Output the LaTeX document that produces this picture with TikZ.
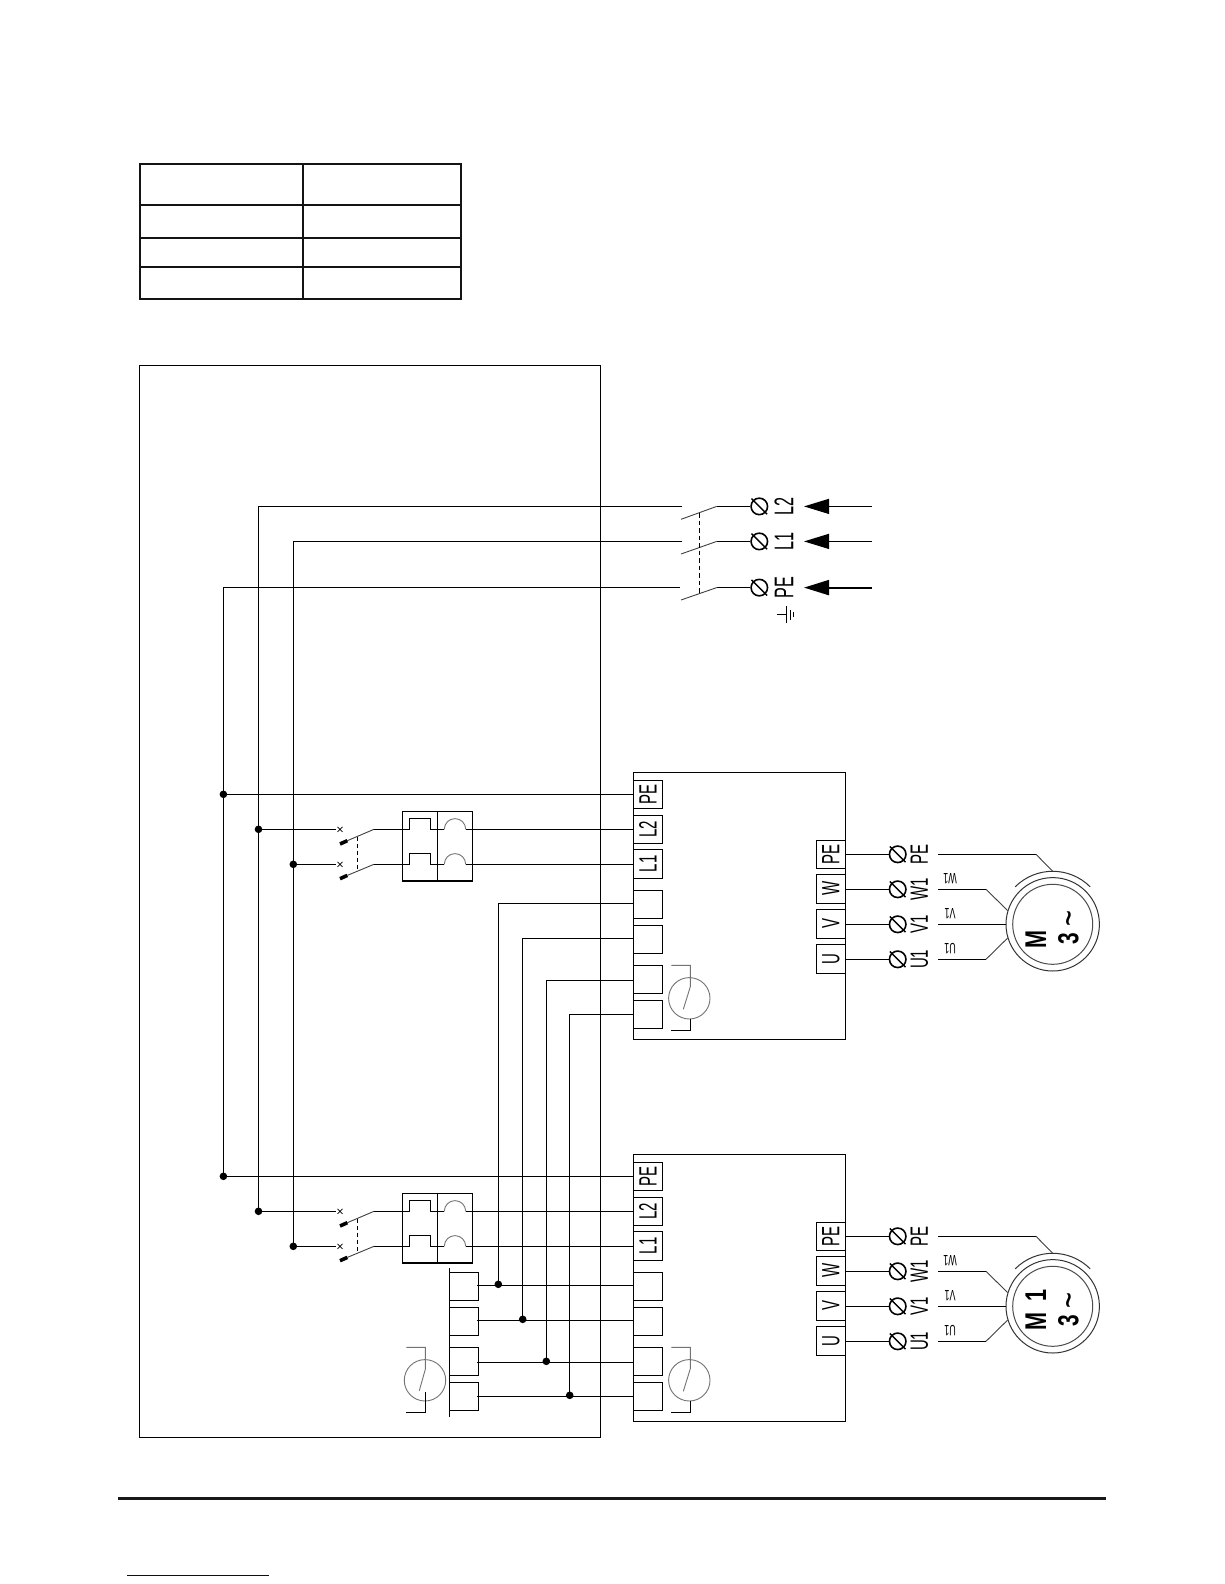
\documentclass[tikz,border=0pt]{standalone}
\usepackage{fontspec}
\setmainfont{Liberation Sans}
\newfontfamily\condf[FakeStretch=0.6]{Liberation Sans}
\newfontfamily\wdbf[FakeStretch=0.72]{Liberation Sans}
\usetikzlibrary{arrows.meta}
\tikzset{
  wire/.style={line width=1.2pt,line cap=butt,line join=miter},
  thin gray/.style={line width=0.9pt,draw=black!55},
  blade/.style={line width=0.9pt,draw=black!75},
  tablerule/.style={line width=2pt,draw=black!92},
  frame/.style={line width=1.2pt},
  term/.style={draw,line width=1.2pt,rectangle,minimum width=29.4pt,minimum height=28pt,inner sep=0pt,font=\fontsize{25}{25}\selectfont\condf},
  biglab/.style={rotate=90,inner sep=0pt,font=\fontsize{25}{25}\selectfont\condf},
  toplab/.style={rotate=90,inner sep=0pt,font=\fontsize{27}{27}\selectfont\condf},
  smalllab/.style={rotate=180,inner sep=0pt,font=\fontsize{15}{15}\selectfont\condf},
  screw/.style={circle,draw,line width=1.6pt,minimum size=16.5pt,inner sep=0pt},
  dot/.style={circle,fill=black,minimum size=7.6pt,inner sep=0pt},
  relay/.style={circle,thin gray,draw=black!55,minimum size=41.4pt,inner sep=0pt},
  motorout/.style={circle,draw,line width=1pt,draw=black!80,minimum size=93.4pt,inner sep=0pt},
  motorin/.style={circle,draw,line width=1pt,draw=black!70,minimum size=80pt,inner sep=0pt},
  powerarrow/.style={-{Triangle[length=25pt,width=15pt]},line width=1.2pt}
}
\newcommand{\screwslash}[1]{\draw[line width=1.4pt,shorten >=-2pt,shorten <=-2pt] (#1.135) -- (#1.-45);}
\newcommand{\rot}[1]{\rotatebox{90}{#1}}
% one drive with breaker and motor
\newcommand{\driveunit}[4]{%
\begin{scope}[yshift=-#2pt]
  \node[draw,line width=1.2pt,minimum width=212pt,minimum height=266.6pt,inner sep=0pt] (box#1) at (739.3,906) {};
  \node[term] (tPE#1) at (648,794.3) {\rot{PE}};
  \node[term] (tL2#1) at (648,829.3) {\rot{L2}};
  \node[term,minimum height=29pt] (tL1#1) at (648,863.8) {\rot{L1}};
  \node[term] (tA#1) at (648,904.3) {};
  \node[term] (tB#1) at (648,939.3) {};
  \node[term] (tC#1) at (648,979.3) {};
  \node[term] (tD#1) at (648,1014.3) {};
  \node[term] (oPE#1) at (830.8,854.3) {\rot{PE}};
  \node[term,minimum height=29pt] (oW#1) at (830.8,888.8) {\rot{W}};
  \node[term,minimum height=29pt] (oV#1) at (830.8,923.8) {\rot{V}};
  \node[term,minimum height=29pt] (oU#1) at (830.8,958.8) {\rot{U}};
  \coordinate (pA#1) at (633.3,903.3);
  \coordinate (pB#1) at (633.3,938.3);
  \coordinate (pC#1) at (633.3,980.3);
  \coordinate (pD#1) at (633.3,1014.3);
  % relay
  \node[relay] (rel#1) at (689.3,998.3) {};
  \coordinate (ra#1) at (671.3,965.3);
  \coordinate (rb#1) at (690.3,965.3);
  \coordinate (rc#1) at (690.3,986.7);
  \coordinate (rd#1) at (683.3,1009.3);
  \coordinate (re#1) at (690.3,1019.3);
  \coordinate (rf#1) at (690.3,1030.7);
  \coordinate (rg#1) at (671.3,1030.7);
  \draw[thin gray] (ra#1) -- (rb#1) -- (rc#1) -- (rd#1);
  \draw[wire] (re#1) -- (rf#1) -- (rg#1);
  % breaker
  \coordinate (jPE#1) at (223.4,794.3);
  \coordinate (jL2#1) at (258.5,829.3);
  \coordinate (jL1#1) at (293.3,864.3);
  \node[dot] (dPE#1) at (jPE#1) {};
  \node[dot] (dL2#1) at (jL2#1) {};
  \node[dot] (dL1#1) at (jL1#1) {};
  \draw[wire] (jPE#1) -- (tPE#1.west);
  \node[draw,line width=1.2pt,minimum width=70pt,minimum height=69.7pt,inner sep=0pt] (brk#1) at (437.3,846.2) {};
  \draw[wire] (brk#1.north) -- (brk#1.south);
  \foreach \yy/\nn/\cy in {829.3/L2/844,864.3/L1/878.7}{
    \coordinate (c1\nn#1) at (336,\yy);
    \coordinate (c2\nn#1) at (340,\yy);
    \coordinate (c3\nn#1) at (347.3,\cy-3.3);
    \coordinate (c4\nn#1) at (340,\cy);
    \coordinate (c5\nn#1) at (374,\yy);
    \coordinate (c6\nn#1) at (409.3,\yy);
    \coordinate (c7\nn#1) at (409.3,\yy-10.5);
    \coordinate (c8\nn#1) at (430.7,\yy-10.5);
    \coordinate (c9\nn#1) at (430.7,\yy);
    \coordinate (c10\nn#1) at (444.3,\yy);
    \coordinate (c11\nn#1) at (465.7,\yy);
    \draw[wire] (j\nn#1) -- (c1\nn#1);
    \draw[line width=0.7pt] (c2\nn#1) ++(-2.5,-2.5) -- ++(5,5) ++(-5,0) -- ++(5,-5);
    \draw[line width=3.6pt] (c4\nn#1) -- (c3\nn#1);
    \draw[blade] (c3\nn#1) -- (c5\nn#1);
    \draw[wire] (c5\nn#1) -- (c6\nn#1) -- (c7\nn#1) -- (c8\nn#1) -- (c9\nn#1) -- (c10\nn#1);
    \draw[thin gray] (c10\nn#1) arc[start angle=-180,end angle=0,radius=10.7];
    \draw[wire] (c11\nn#1) -- (t\nn#1.west |- c11\nn#1);
  }
  \coordinate (dsA#1) at (357.3,836.7);
  \coordinate (dsB#1) at (357.3,870);
  \draw[wire,dashed,dash pattern=on 4pt off 3pt] (dsA#1) -- (dsB#1);
  % outgoing terminals
  \foreach \yy/\nn/\tx in {854.3/PE/PE,889.3/W/W1,924.3/V/V1,959.3/U/U1}{
    \node[screw] (s\nn#1) at (897.7,\yy) {};
    \screwslash{s\nn#1}
    \draw[wire] (o\nn#1.east |- s\nn#1.west) -- (s\nn#1.west);
    \node[biglab] (l\nn#1) at (919.3,\yy) {\tx};
    \coordinate (m\nn#1) at (938.3,\yy);
  }
  \node[smalllab] (sW#1x) at (950,879) {W1};
  \node[smalllab] (sV#1x) at (950,913.7) {V1};
  \node[smalllab] (sU#1x) at (950,948.7) {U1};
  % motor
  \node[motorout] (mo#1) at (1052.7,924.3) {};
  \node[motorin] (mi#1) at (1052.7,924.3) {};
  \coordinate (arcS#1) at (1015.2,886.8);
  \coordinate (arcT#1) at (1052.7,871.3);
  \draw[line width=1pt,draw=black!80] (arcS#1) arc[start angle=-135,end angle=-45,radius=53];
  \coordinate (kPE#1) at (1036,854.3);
  \coordinate (kW#1) at (986,889.3);
  \coordinate (kU#1) at (986,959.3);
  \draw[line width=1pt] (mPE#1) -- (kPE#1);
  \draw[blade] (kPE#1) -- (arcT#1);
  \draw[line width=1pt] (mW#1) -- (kW#1);
  \draw[blade] (kW#1) -- (mo#1.163);
  \draw[line width=1pt] (mV#1) -- (mo#1.west);
  \draw[line width=1pt] (mU#1) -- (kU#1);
  \draw[blade] (kU#1) -- (mo#1.197);
  \node[rotate=90,inner sep=0pt,font=\fontsize{30}{30}\selectfont\wdbf\bfseries] (mt#1) at (1035.7,#3) {#4};
  \node[rotate=90,inner sep=0pt,font=\fontsize{29}{29}\selectfont\wdbf\bfseries] (mn#1) at (1070,927.5) {3 \raisebox{-3.5pt}{\fontsize{38}{38}\selectfont\mdseries\string~}};
\end{scope}}
\begin{document}
\begin{tikzpicture}[x=1pt,y=-1pt]
\useasboundingbox (0,0) rectangle (1224,1584);
\fill[white] (0,0) rectangle (1224,1584);
% table
\coordinate (ta) at (139.5,164);
\coordinate (tb) at (461,299);
\draw[tablerule] (ta) rectangle (tb);
\draw[tablerule] (303,164) -- (303,299);
\draw[tablerule] (139.5,204.7) -- (461,204.7);
\draw[tablerule] (139.5,237.7) -- (461,237.7);
\draw[tablerule] (139.5,266.7) -- (461,266.7);
% enclosure
\draw[frame] (139.4,365.6) rectangle (600.5,1437.6);
% footer
\draw[line width=3pt,draw=black!90] (118,1498.3) -- (1106,1498.3);
\draw[line width=1pt,draw={rgb,255:red,0;green,0;blue,128}] (127,1575.3) -- (269,1575.3);
% drives
\driveunit{A}{0}{939}{M}
\driveunit{B}{382}{927.5}{M\hspace{11pt}1}
% supply
\foreach \yy/\nn/\ee/\tx/\by/\lx in {506.4/Ltwo/519.3/L2/506.4/682.3,541.4/Lone/554/L1/541.4/682.3,587.6/Lpe/600/PE/587.6/680}{
  \coordinate (in\nn) at (\lx,\yy);
  \coordinate (ba\nn) at (681,\ee);
  \coordinate (bb\nn) at (716.7,\by);
  \node[screw] (sc\nn) at (759.3,\by) {};
  \screwslash{sc\nn}
  \draw[blade] (ba\nn) -- (bb\nn);
  \draw[wire] (bb\nn) -- (sc\nn.west);
  \node[toplab] (la\nn) at (784,\by) {\tx};
  \coordinate (aa\nn) at (871.7,\by);
  \coordinate (ab\nn) at (804,\by);
}
\draw[powerarrow] (aaLtwo) -- (abLtwo);
\draw[powerarrow] (aaLone) -- (abLone);
\draw[powerarrow,line width=2pt] (aaLpe) -- (abLpe);
\coordinate (daS) at (699.3,513);
\coordinate (daE) at (699.3,593);
\draw[wire,dashed,dash pattern=on 4.5pt off 3pt] (daS) -- (daE);
% earth
\coordinate (ea) at (777.3,614.7);
\coordinate (eb) at (786,614.7);
\draw[line width=0.9pt] (ea) -- (eb);
\draw[line width=0.9pt] (786,606) -- (786,622.7);
\draw[line width=0.9pt] (790,610) -- (790,620);
\draw[line width=0.9pt] (793.7,612) -- (793.7,617);
% buses
\coordinate (topPE) at (223.4,587.6);
\coordinate (topL2) at (258.5,506.4);
\coordinate (topL1) at (293.3,541.4);
\draw[wire] (inLpe) -- (topPE) -- (jPEB);
\draw[wire] (inLtwo) -- (topL2) -- (jL2B);
\draw[wire] (inLone) -- (topL1) -- (jL1B);
% control group bottom left
\node[term] (gA) at (464,1286.3) {};
\node[term] (gB) at (464,1321.3) {};
\node[term] (gC) at (464,1361.3) {};
\node[term] (gD) at (464,1396.3) {};
\coordinate (barT) at (449.3,1268.3);
\coordinate (barB) at (449.3,1416.7);
\draw[wire] (barT) -- (barB);
\node[relay] (relG) at (425,1380.3) {};
\coordinate (ga) at (406.3,1347.3);
\coordinate (gb) at (425.3,1347.3);
\coordinate (gc) at (425.3,1369.3);
\coordinate (gd) at (419.3,1390.7);
\coordinate (ge) at (425.3,1392.3);
\coordinate (gf) at (425.3,1412.3);
\coordinate (gg) at (406.3,1412.3);
\draw[thin gray] (ga) -- (gb) -- (gc) -- (gd);
\draw[wire] (ge) -- (gf) -- (gg);
% control wires
\foreach \nn/\xx/\yy/\ya in {A/498.3/1285.3/903.3,B/522.7/1320.3/938.3,C/546.3/1362.3/980.3,D/569.7/1396.3/1014.3}{
  \coordinate (up\nn) at (\xx,\ya);
  \coordinate (lo\nn) at (\xx,\yy-1);
  \coordinate (st\nn) at (477.3,\yy);
  \draw[wire] (p\nn A) -- (up\nn) -- (lo\nn);
  \draw[wire] (st\nn) -- (p\nn B);
  \node[dot] (dd\nn) at (lo\nn) {};
}
\end{tikzpicture}
\end{document}
